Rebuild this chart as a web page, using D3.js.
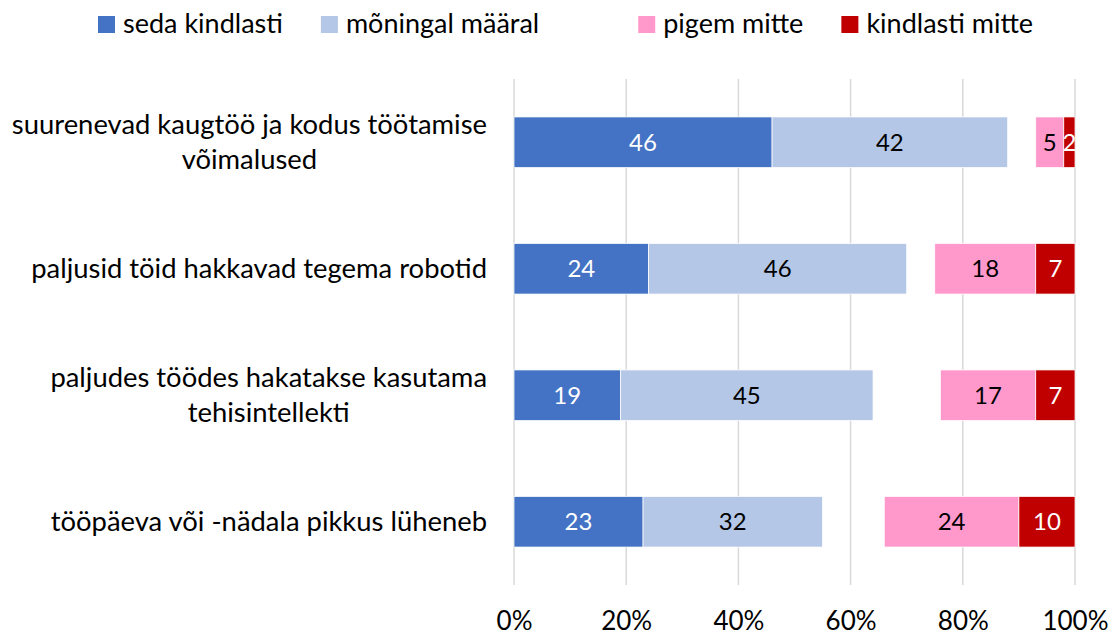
<!DOCTYPE html>
<html>
<head>
<meta charset="utf-8">
<script src="https://cdn.jsdelivr.net/npm/d3@7"></script>
<style>
  body { margin: 0; background: #fff; }
  text { font-family: Lato, "Open Sans", sans-serif; fill: #000; }
</style>
</head>
<body>
<div id="chart"></div>
<script>

// data
var categories = [
  ["suurenevad kaugtöö ja kodus töötamise", "võimalused"],
  ["paljusid töid hakkavad tegema robotid"],
  ["paljudes töödes hakatakse kasutama", "tehisintellekti"],
  ["tööpäeva või -nädala pikkus lüheneb"]
]
var series = ["seda kindlasti", "mõningal määral", "ei oska öelda", "pigem mitte", "kindlasti mitte"]
var sedaKindlasti  = [46, 24, 19, 23]
var moningalMaaral = [42, 46, 45, 32]
var eiOska         = [5, 5, 12, 11]    // not drawn, leaves the gap
var pigemMitte     = [5, 18, 17, 24]
var kindlastiMitte = [2, 7, 7, 10]
var tickValues = [0, 20, 40, 60, 80, 100]

var colors = ["#4472C4", "#B4C7E7", "none", "#FF99CC", "#C00000"]
var labelColors = ["#fff", "#000", "none", "#000", "#fff"]
var hidden = "ei oska öelda"

var rows = categories.map(function(c, i) {
  return {
    index: i,
    lines: c,
    "seda kindlasti": sedaKindlasti[i],
    "mõningal määral": moningalMaaral[i],
    "ei oska öelda": eiOska[i],
    "pigem mitte": pigemMitte[i],
    "kindlasti mitte": kindlastiMitte[i]
  }
})

var width = 1113
var height = 635

var svg = d3.select("#chart")
  .append("svg")
  .attr("width", width)
  .attr("height", height)

var x = d3.scaleLinear()
  .domain([0, 100])
  .range([514, 1075])

var y = d3.scaleBand()
  .domain(rows.map(d => d.index))
  .range([79, 585])
  .paddingInner(0.6)
  .paddingOuter(0.3)

var stacked = d3.stack().keys(series)(rows)

// gridlines
svg.append("g")
  .selectAll("line")
  .data(tickValues)
  .join("line")
    .attr("x1", d => x(d))
    .attr("x2", d => x(d))
    .attr("y1", 79)
    .attr("y2", 585)
    .attr("stroke", "#d9d9d9")
    .attr("stroke-width", 1.5)

// x axis labels
var axis = svg.append("g")
  .attr("transform", "translate(0,630)")
  .call(d3.axisBottom(x).tickValues(tickValues).tickFormat(d => d + "%").tickSize(0))

axis.select(".domain").remove()
axis.selectAll("text")
  .attr("y", 0)
  .attr("dy", 0)
  .style("font-family", "Lato, 'Open Sans', sans-serif")
  .style("font-size", "26px")
  .attr("fill", "#000")

// bars
var layers = svg.append("g")
  .selectAll("g")
  .data(stacked.filter(s => s.key !== hidden))
  .join("g")
    .attr("fill", d => colors[series.indexOf(d.key)])

layers.selectAll("rect")
  .data(d => d)
  .join("rect")
    .attr("x", d => x(d[0]))
    .attr("y", d => y(d.data.index))
    .attr("width", d => x(d[1]) - x(d[0]))
    .attr("height", y.bandwidth())
    .attr("stroke", "#fff")
    .attr("stroke-width", 0.75)

// data labels
layers.selectAll("text")
  .data(d => d.map(v => ({ key: d.key, v: v })))
  .join("text")
    .attr("x", d => (x(d.v[0]) + x(d.v[1])) / 2)
    .attr("y", d => y(d.v.data.index) + y.bandwidth() / 2 + 8.5)
    .attr("text-anchor", "middle")
    .style("font-size", "24px")
    .style("fill", d => labelColors[series.indexOf(d.key)])
    .text(d => d.v.data[d.key])

// category labels, right edge at 487, wrapped lines centred on the widest one
var cats = svg.append("g")
  .selectAll("text")
  .data(rows)
  .join("text")
    .attr("text-anchor", "middle")
    .style("font-size", "27.4px")

cats.each(function(d) {
  var t = d3.select(this)
  var mid = y(d.index) + y.bandwidth() / 2
  d.lines.forEach(function(line, i) {
    t.append("tspan")
      .attr("y", mid + 9 + (i - (d.lines.length - 1) / 2) * 35)
      .text(line)
  })
  var widest = d3.max(t.selectAll("tspan").nodes(), n => n.getComputedTextLength())
  t.selectAll("tspan").attr("x", 487 - widest / 2)
})

// legend
var legend = svg.append("g")
var cursor = 98
series.forEach(function(s, i) {
  if (s === hidden) { cursor += 61; return }
  legend.append("rect")
    .attr("x", cursor)
    .attr("y", 16)
    .attr("width", 17)
    .attr("height", 17)
    .attr("fill", colors[i])
  var label = legend.append("text")
    .attr("x", cursor + 25)
    .attr("y", 33)
    .style("font-size", "27px")
    .text(s)
  cursor += 25 + label.node().getComputedTextLength() + 38
})

</script>
</body>
</html>
